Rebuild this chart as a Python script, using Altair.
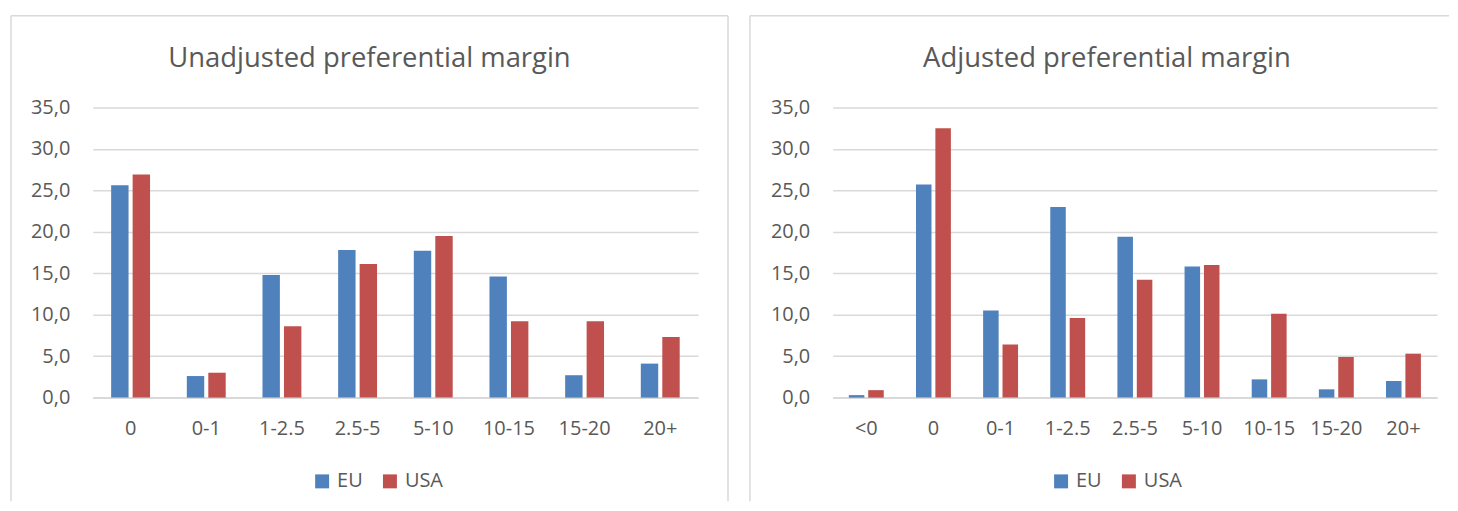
import altair as alt
import pandas as pd

# ---- data ----
cats_unadj = ["0", "0-1", "1-2.5", "2.5-5", "5-10", "10-15", "15-20", "20+"]
eu_unadj = [25.6, 2.6, 14.8, 17.8, 17.7, 14.6, 2.7, 4.1]
usa_unadj = [26.9, 3.0, 8.6, 16.1, 19.5, 9.2, 9.2, 7.3]

cats_adj = ["<0", "0", "0-1", "1-2.5", "2.5-5", "5-10", "10-15", "15-20", "20+"]
eu_adj = [0.3, 25.7, 10.5, 23.0, 19.4, 15.8, 2.2, 1.0, 2.0]
usa_adj = [0.9, 32.5, 6.4, 9.6, 14.2, 16.0, 10.1, 4.9, 5.3]

series = ["EU", "USA"]
colors = ["#4f81bd", "#c0504d"]
y_ticks = [0, 5, 10, 15, 20, 25, 30, 35]

titles = ["Unadjusted preferential margin", "Adjusted preferential margin"]

FONT = "Open Sans"
TXT = "#595959"
GRID = "#d9d9d9"


def make_df(cats, eu, usa):
    rows = []
    for c, e, u in zip(cats, eu, usa):
        rows.append({"cat": c, "series": "EU", "value": e})
        rows.append({"cat": c, "series": "USA", "value": u})
    return pd.DataFrame(rows)


def panel(cats, eu, usa, title, width, pad_inner, sub_pad, border_left, border_right,
          right_side_line, title_x, legend_x):
    df = make_df(cats, eu, usa)
    bars = alt.Chart(df).mark_bar().encode(
        x=alt.X("cat:N", sort=cats, title=None,
                scale=alt.Scale(paddingInner=pad_inner, paddingOuter=pad_inner / 2),
                axis=alt.Axis(labelAngle=0, labelFont=FONT, labelFontSize=20,
                              labelColor=TXT, labelPadding=21, ticks=False,
                              domainColor=GRID, domainWidth=2, grid=False)),
        xOffset=alt.XOffset("series:N", sort=series,
                            scale=alt.Scale(paddingInner=sub_pad, paddingOuter=0)),
        y=alt.Y("value:Q", title=None,
                scale=alt.Scale(domain=[0, 35], nice=False, zero=True),
                axis=alt.Axis(values=y_ticks, labelFont=FONT, labelFontSize=20,
                              labelColor=TXT, labelPadding=23, ticks=False,
                              domain=False, gridColor=GRID, gridWidth=1.5,
                              labelExpr="replace(format(datum.value, '.1f'), '.', ',')")),
        color=alt.Color("series:N", sort=series,
                        scale=alt.Scale(domain=series, range=colors),
                        legend=alt.Legend(title=None, orient="none", direction="horizontal",
                                          legendX=legend_x, legendY=365, padding=0,
                                          symbolType="square", symbolSize=196,
                                          symbolStrokeWidth=0, labelFont=FONT,
                                          labelFontSize=20, labelColor=TXT,
                                          labelOffset=5, columnPadding=17)),
    )

    one = alt.Data(values=[{"k": 1}])
    top = -92
    bottom = 395
    rules = [
        alt.Chart(one).mark_rule(color=GRID, strokeWidth=1.5).encode(
            x=alt.value(border_left), x2=alt.value(border_right),
            y=alt.value(top)),
        alt.Chart(one).mark_rule(color=GRID, strokeWidth=1.5).encode(
            x=alt.value(border_left), y=alt.value(top), y2=alt.value(bottom)),
    ]
    if right_side_line:
        rules.append(alt.Chart(one).mark_rule(color=GRID, strokeWidth=1.5).encode(
            x=alt.value(border_right), y=alt.value(top), y2=alt.value(bottom)))

    ttl = alt.Chart(alt.Data(values=[{"t": title}])).mark_text(
        font=FONT, fontSize=27.5, color=TXT, align="center", baseline="alphabetic"
    ).encode(text="t:N", x=alt.value(title_x), y=alt.value(-41))

    return alt.layer(bars, *rules, ttl).properties(width=width, height=291)


left = panel(cats_unadj, eu_unadj, usa_unadj, titles[0], 607, 0.486, 0.19,
             -82, 637, True, 277.5, 220)
right = panel(cats_adj, eu_adj, usa_adj, titles[1], 606, 0.48, 0.2,
              -83, 618, False, 275, 219)

chart = alt.hconcat(left, right, spacing=20).resolve_scale(
    color="independent", x="independent", y="independent", xOffset="independent"
).properties(
    padding={"left": 2, "top": 6, "right": 0, "bottom": 0},
    background="white",
).configure_view(stroke=None)

chart.save("out.html", embed_options={"renderer": "svg", "actions": False})
